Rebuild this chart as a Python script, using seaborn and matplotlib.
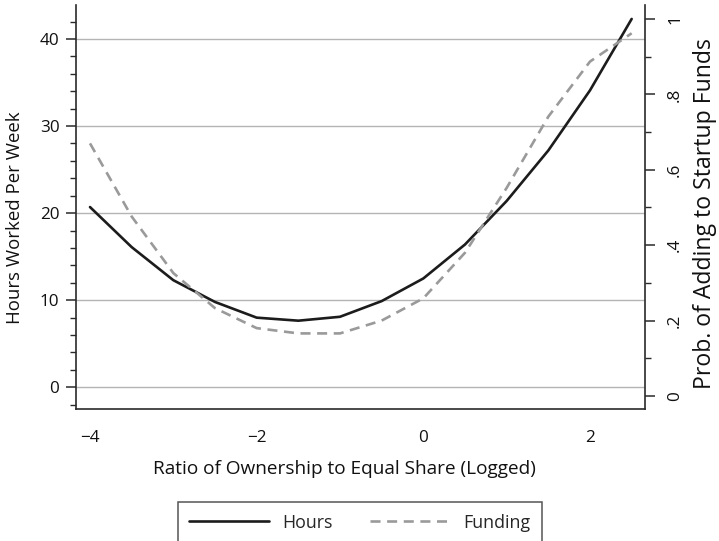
import numpy as np
import pandas as pd
import matplotlib
matplotlib.use("Agg")
import matplotlib.pyplot as plt
from matplotlib.ticker import MultipleLocator, FixedLocator
import seaborn as sns

# Predicted values across the logged ownership ratio
ratio = [-4.0, -3.5, -3.0, -2.5, -2.0, -1.5, -1.0, -0.5, 0.0, 0.5, 1.0, 1.5, 2.0, 2.5]
hours = [20.7, 16.1, 12.3, 9.8, 8.0, 7.65, 8.1, 9.9, 12.5, 16.4, 21.4, 27.2, 34.1, 42.3]
funding = [0.670, 0.476, 0.326, 0.233, 0.180, 0.166, 0.166, 0.200, 0.259, 0.380, 0.552, 0.741, 0.887, 0.962]

x_ticks = [-4, -2, 0, 2]
x_tick_labels = ["\u22124", "\u22122", "0", "2"]
left_ticks = [0, 10, 20, 30, 40]
right_ticks = [0, 0.2, 0.4, 0.6, 0.8, 1.0]
right_tick_labels = ["0", ".2", ".4", ".6", ".8", "1"]

df = pd.DataFrame({"ratio": ratio, "hours": hours, "funding": funding})

sns.set_theme(style="white")
plt.rcParams["font.family"] = ["Open Sans", "DejaVu Sans"]

fig = plt.figure(figsize=(7.19, 5.41), dpi=100)
ax = fig.add_axes([76 / 719, 1 - 409 / 541, (645 - 76) / 719, (409 - 5) / 541])
ax2 = ax.twinx()

line_black = "#1c1c1c"
line_gray = "#9a9a9a"

sns.lineplot(data=df, x="ratio", y="hours", ax=ax, color=line_black,
             linewidth=1.9, label="Hours", legend=False)
sns.lineplot(data=df, x="ratio", y="funding", ax=ax2, color=line_gray,
             linewidth=1.9, label="Funding", legend=False)
ax2.lines[0].set_dashes((3.8, 2.5))

ax.set_xlim(-4.168, 2.66)
ax.set_ylim(-2.49, 43.9)
ax2.set_ylim(-0.0345, 1.037)

# Horizontal grid tied to the left axis
ax.set_yticks(left_ticks)
ax.yaxis.set_minor_locator(MultipleLocator(2))
ax.grid(False)
for v in left_ticks:
    ax.axhline(v, color="#b4b4b4", linewidth=1.0, zorder=0)

ax.set_xticks(x_ticks)
ax.set_xticklabels(x_tick_labels)
ax.xaxis.set_minor_locator(FixedLocator([-3, -1, 1]))

ax2.set_yticks(right_ticks)
ax2.set_yticklabels(right_tick_labels, rotation=90, va="center")
ax2.yaxis.set_minor_locator(MultipleLocator(0.1))

spine_color = "#2a2a2a"
for a in (ax, ax2):
    a.spines["top"].set_visible(False)
    for s in ("left", "bottom", "right"):
        a.spines[s].set_color(spine_color)
        a.spines[s].set_linewidth(1.2)
    a.tick_params(which="major", direction="out", length=7, width=1.1,
                  color=spine_color, labelsize=12.3, labelcolor="#111111")
    a.tick_params(which="minor", direction="out", length=4, width=1.0,
                  color=spine_color)
ax.spines["right"].set_visible(False)
ax2.spines["left"].set_visible(False)
ax2.spines["bottom"].set_visible(False)
ax.tick_params(axis="x", which="major", pad=8)
ax.tick_params(axis="y", which="major", pad=5)
ax2.tick_params(axis="y", which="major", pad=9)

ax.set_xlabel("Ratio of Ownership to Equal Share (Logged)", fontsize=13.7,
              color="#111111", labelpad=10)
ax.set_ylabel("Hours Worked Per Week", fontsize=13.4, color="#111111", labelpad=11)
ax2.set_ylabel("Prob. of Adding to Startup Funds", fontsize=16.6, color="#111111",
               labelpad=7)
ax.xaxis.label.set_x(0.472)
ax.yaxis.label.set_y(0.474)
ax2.yaxis.label.set_y(0.483)

handles = [ax.lines[0], ax2.lines[0]]
leg = fig.legend(handles, ["Hours", "Funding"], loc="upper center",
                 bbox_to_anchor=(360 / 719, 1 - 502 / 541), ncol=2,
                 frameon=True, fancybox=False, fontsize=12.8,
                 handlelength=4.5, handletextpad=0.75, columnspacing=2.1,
                 borderpad=0.65, borderaxespad=0)
leg.get_frame().set_edgecolor("#2a2a2a")
leg.get_frame().set_linewidth(1.1)

fig.savefig("out.png", dpi=100)
